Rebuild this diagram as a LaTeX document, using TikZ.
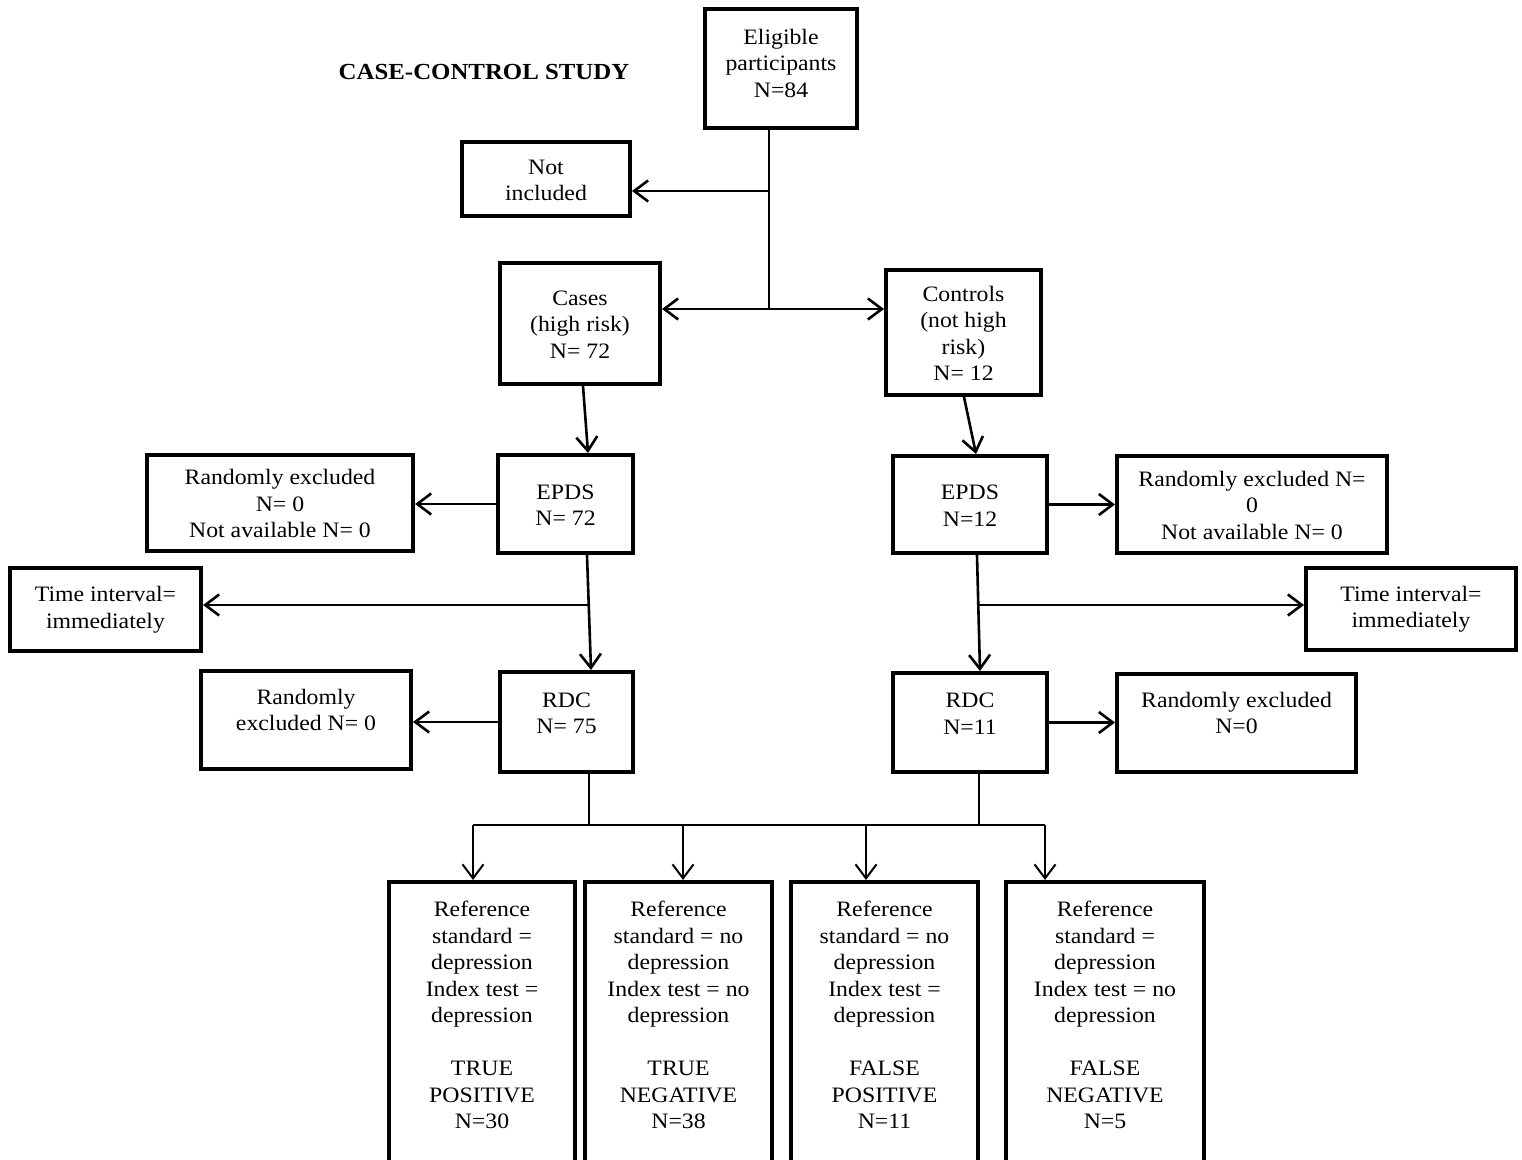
\documentclass[tikz,border=0pt]{standalone}
\usepackage{fontspec}
\setmainfont{Liberation Serif}
\usepackage{graphicx}
\usetikzlibrary{arrows.meta,calc}

% centred multi-line text block, slightly widened and set a little low
\newcommand\cz[1]{\raisebox{-1.5pt}[\height][\depth]{\scalebox{1.08}[1]{\renewcommand\arraystretch{1}\begin{tabular}{@{}c@{}}#1\end{tabular}}}}

\tikzset{
  box/.style={draw, line width=2pt, inner sep=0pt, align=center,
              font=\fontsize{11}{13.25}\selectfont},
  conn/.style={line width=1.3pt},
  arr/.style={conn, -{Straight Barb[length=7pt,width=10.5pt]}},
  thinconn/.style={line width=1pt},
  thinarr/.style={thinconn, -{Straight Barb[length=7pt,width=10.5pt]}},
}

\begin{document}
\begin{tikzpicture}[x=0.5pt,y=-0.5pt]
\clip (0,0) rectangle (1522,1160);
\fill[white] (0,0) rectangle (1522,1160);

% title
\node[font=\fontsize{11.5}{13.25}\selectfont\bfseries] (title) at (484,71) {\cz{CASE-CONTROL STUDY}};

% top part
\node[box, minimum width=76pt, minimum height=59.5pt] (elig) at (781,68.5)
  {\cz{Eligible\\participants\\N=84\\[6pt]}};
\node[box, minimum width=84pt, minimum height=37pt] (notinc) at (546,179)
  {\cz{Not\\included}};
\node[box, minimum width=80pt, minimum height=60.5pt] (cases) at (580,323.5)
  {\cz{Cases\\(high risk)\\N= 72}};
\node[box, minimum width=77.5pt, minimum height=62.5pt] (controls) at (963.5,332.5)
  {\cz{Controls\\(not high\\risk)\\N= 12}};

% index test
\node[box, minimum width=67.5pt, minimum height=49pt] (epdsL) at (565.5,504)
  {\cz{EPDS\\N= 72}};
\node[box, minimum width=133pt, minimum height=48pt] (rexL) at (280,503)
  {\cz{Randomly excluded\\N= 0\\Not available N= 0}};
\node[box, minimum width=77pt, minimum height=48.5pt] (epdsR) at (970,504.5)
  {\cz{EPDS\\N=12}};
\node[box, minimum width=135pt, minimum height=48.5pt] (rexR) at (1252,504.5)
  {\cz{Randomly excluded N=\\0\\Not available N= 0}};

% time interval
\node[box, minimum width=95.5pt, minimum height=41.5pt] (timeL) at (105.5,609.5)
  {\cz{Time interval=\\immediately\\[3pt]}};
\node[box, minimum width=105pt, minimum height=41pt] (timeR) at (1411,609)
  {\cz{Time interval=\\immediately\\[3pt]}};

% reference standard
\node[box, minimum width=66.5pt, minimum height=50pt] (rdcL) at (566.5,722)
  {\cz{RDC\\N= 75\\[10pt]}};
\node[box, minimum width=105pt, minimum height=49pt] (rexL2) at (306,720)
  {\cz{Randomly\\excluded N= 0\\[11pt]}};
\node[box, minimum width=77pt, minimum height=49.5pt] (rdcR) at (970,722.5)
  {\cz{RDC\\N=11\\[10pt]}};
\node[box, minimum width=119.5pt, minimum height=49pt] (rexR2) at (1236.5,723)
  {\cz{Randomly excluded\\N=0\\[11pt]}};

% outcome boxes
\node[box, anchor=north, minimum width=93pt, minimum height=145.5pt] (b1) at (482,880)
  {\cz{Reference\\standard =\\depression\\Index test =\\depression\\ \\TRUE\\POSITIVE\\N=30\\[13.25pt]}};
\node[box, anchor=north, minimum width=93.5pt, minimum height=145.5pt] (b2) at (678.5,880)
  {\cz{Reference\\standard = no\\depression\\Index test = no\\depression\\ \\TRUE\\NEGATIVE\\N=38\\[13.25pt]}};
\node[box, anchor=north, minimum width=93.5pt, minimum height=145.5pt] (b3) at (884.5,880)
  {\cz{Reference\\standard = no\\depression\\Index test =\\depression\\ \\FALSE\\POSITIVE\\N=11\\[13.25pt]}};
\node[box, anchor=north, minimum width=99pt, minimum height=145.5pt] (b4) at (1105,880)
  {\cz{Reference\\standard =\\depression\\Index test = no\\depression\\ \\FALSE\\NEGATIVE\\N=5\\[13.25pt]}};

% split of eligible participants
\coordinate (j1) at (769,191);
\coordinate (j2) at (769,309);
\draw[conn] (elig.south -| j1) -- (j2);
\draw[arr] (j1) -- (j1 -| notinc.east);
\draw[arr] (j2) -- (j2 -| cases.east);
\draw[arr] (j2) -- (j2 -| controls.west);

% cases / controls to index test
\draw[arr] ($(cases.south)+(3,0)$) -- ($(epdsL.north)+(22.5,0)$);
\draw[arr] ($(controls.south)+(0.5,0)$) -- ($(epdsR.north)+(6,0)$);
\draw[arr] (epdsL.west) -- (epdsL.west -| rexL.east);
\draw[arr] (epdsR.east) -- (epdsR.east -| rexR.west);

% index test to reference standard
\coordinate (tL) at (588,605);
\coordinate (tR) at (978,605);
\draw[arr] ($(epdsL.south)+(21.5,0)$) -- ($(rdcL.north)+(24.5,0)$);
\draw[arr] ($(epdsR.south)+(7,0)$) -- ($(rdcR.north)+(10,0)$);
\draw[arr] (tL) -- (tL -| timeL.east);
\draw[arr] (tR) -- (tR -| timeR.west);
\draw[arr] (rdcL.west) -- (rdcL.west -| rexL2.east);
\draw[arr] (rdcR.east) -- (rdcR.east -| rexR2.west);

% distribution to outcome boxes
\coordinate (kL) at (589,825);
\coordinate (kR) at (979,825);
\coordinate (d1) at (473,825);
\coordinate (d2) at (683,825);
\coordinate (d3) at (866,825);
\coordinate (d4) at (1045,825);
\draw[thinconn] (rdcL.south -| kL) -- (kL);
\draw[thinconn] (rdcR.south -| kR) -- (kR);
\draw[thinconn] (d1) -- (d4);
\draw[thinarr] (d1) -- (d1 |- b1.north);
\draw[thinarr] (d2) -- (d2 |- b2.north);
\draw[thinarr] (d3) -- (d3 |- b3.north);
\draw[thinarr] (d4) -- (d4 |- b4.north);
\end{tikzpicture}
\end{document}
